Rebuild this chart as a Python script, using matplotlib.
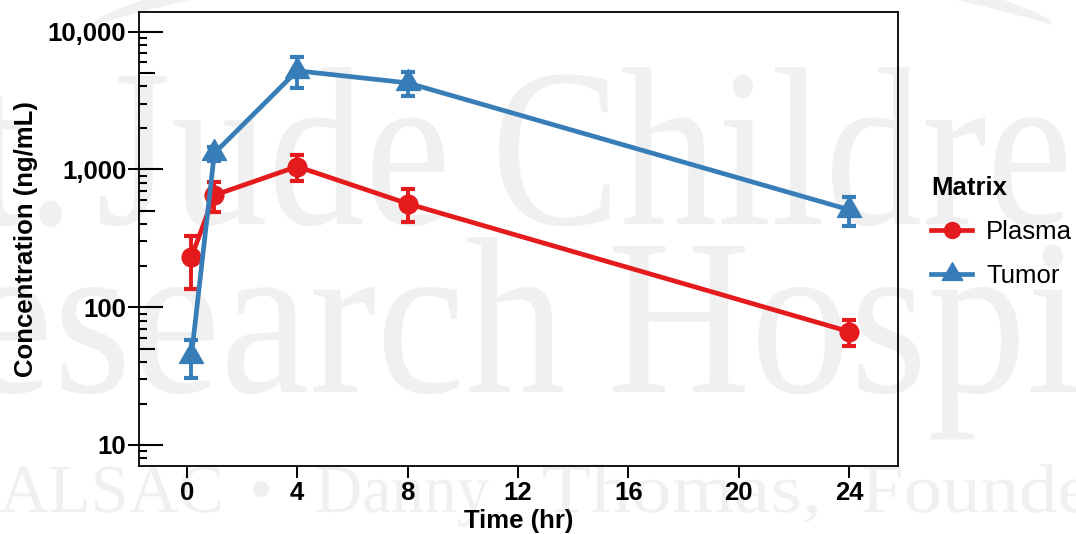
import numpy as np
import matplotlib
matplotlib.use("Agg")
import matplotlib.pyplot as plt
from matplotlib.font_manager import FontProperties
from matplotlib.textpath import TextPath
from matplotlib.patches import PathPatch, Polygon
from matplotlib.transforms import Affine2D
from matplotlib.path import Path
from matplotlib.lines import Line2D
from matplotlib.ticker import FixedLocator, NullLocator

# ---------------- data ----------------
time_hr = [0.17, 1, 4, 8, 24]
plasma_mean = [232, 650, 1050, 565, 66.5]
plasma_sd = [97, 155, 220, 152, 14]
tumor_mean = [44.4, 1310, 5200, 4250, 510]
tumor_sd = [13.9, 150, 1320, 840, 120]
series_names = ["Plasma", "Tumor"]
series_colors = ["#E41A1C", "#377EB8"]
x_ticks = [0, 4, 8, 12, 16, 20, 24]
y_ticks = [10, 100, 1000, 10000]
y_tick_labels = ["10", "100", "1,000", "10,000"]

plt.rcParams["font.family"] = ["Liberation Sans", "DejaVu Sans"]
FS = 18.5

W, H = 1076, 534
fig = plt.figure(figsize=(W / 100, H / 100), dpi=100)

# ---------------- background watermark ----------------
bg = fig.add_axes([0, 0, 1, 1], zorder=0)
bg.set_xlim(0, W)
bg.set_ylim(H, 0)
bg.axis("off")
wm_color = "#F0F0F0"
fp_serif = FontProperties(family="Liberation Serif")
Hcap = TextPath((0, 0), "H", size=100, prop=fp_serif).get_extents().height


def wm(text, x0, base, cap, x1=None, xs=0.85, align="left", sub=None):
    p = TextPath((0, 0), text, size=100, prop=fp_serif)
    ext = p.get_extents()
    sy = cap / Hcap
    if x1 is not None:
        right = TextPath((0, 0), sub, size=100, prop=fp_serif).get_extents().x1 if sub else ext.x1
        sx = (x1 - x0) / (right - ext.x0)
    else:
        sx = sy * xs
    tx = x0 - ext.x0 * sx if align == "left" else x0 - ext.x1 * sx
    tr = Affine2D().scale(sx, -sy).translate(tx, base)
    bg.add_patch(PathPatch(tr.transform_path(p), fc=wm_color, ec="none"))


wm("St.", 62, 224, 148, align="right")
wm("Jude", 100, 224, 148, x1=444)
wm("Children's", 499, 224, 148, x1=1066, sub="Childre")
wm("Research", 563, 392, 146, align="right", xs=0.9)
wm("Hospital", 613, 392, 146, x1=920, sub="Hos")
wm("ALSAC", 0, 512, 45, x1=220)
wm("\u2022", 253, 512, 45, x1=269)
wm("Danny", 317, 512, 45, x1=489)
wm("Thomas,", 543, 512, 45, x1=817)
wm("Founder", 863, 512, 45, xs=1.12)

# swoosh of the logo
xs_arc = np.linspace(93, 1053, 300)
yc = 25 - 0.0003 * (xs_arc - 93) * (1053 - xs_arc)
th = 24 * np.sin(np.pi * (xs_arc - 93) / 960) ** 0.4
poly = np.vstack([np.column_stack([xs_arc, yc]),
                  np.column_stack([xs_arc[::-1], (yc - th)[::-1]])])
bg.add_patch(Polygon(poly, closed=True, fc=wm_color, ec="none"))

# ---------------- main axes ----------------
L, R, T, B = 139, 898, 12, 466
ax = fig.add_axes([L / W, 1 - B / H, (R - L) / W, (B - T) / H], zorder=1)
ax.set_facecolor("none")
ax.set_yscale("log")
ax.set_xlim(-1.73, 25.77)
ax.set_ylim(7.04, 13890)

tri_verts = [(-1, -0.577), (1, -0.577), (0, 1.155), (-1, -0.577)]
tri = Path(tri_verts, [Path.MOVETO, Path.LINETO, Path.LINETO, Path.CLOSEPOLY])
markers = ["o", tri]
msizes = [13.5, 20]
means = [plasma_mean, tumor_mean]
sds = [plasma_sd, tumor_sd]

for name, c, m, ms, mu, sd in zip(series_names, series_colors, markers, msizes, means, sds):
    ax.errorbar(time_hr, mu, yerr=sd, fmt="none", ecolor=c, elinewidth=2.8,
                capsize=5, capthick=3, zorder=3)
    ax.plot(time_hr, mu, color=c, lw=3.4, marker=m, ms=ms, mec=c, mfc=c,
            zorder=4, solid_capstyle="butt")

for s in ax.spines.values():
    s.set_linewidth(1.3)
    s.set_color("black")

ax.xaxis.set_major_locator(FixedLocator(x_ticks))
ax.set_xticklabels([str(v) for v in x_ticks])
ax.yaxis.set_major_locator(FixedLocator(y_ticks))
ax.yaxis.set_minor_locator(NullLocator())
ax.set_yticklabels(y_tick_labels)
ax.tick_params(axis="x", direction="out", length=8.5, width=1.4, pad=2.5,
               labelsize=FS)
ax.tick_params(axis="y", direction="out", length=7.7, width=1.4, pad=1.5,
               labelsize=FS)
for lab in ax.get_xticklabels() + ax.get_yticklabels():
    lab.set_fontweight("bold")

# inward log ticks (annotation_logticks style)
ax_w_px = R - L
ylo, yhi = ax.get_ylim()
for d in range(0, 5):
    for k in range(1, 10):
        v = k * 10 ** d
        if ylo <= v <= yhi:
            ln = 24 if k == 1 else (16 if k == 5 else 8)
            ax.plot([0, ln / ax_w_px], [v, v], transform=ax.get_yaxis_transform(),
                    color="black", lw=1.5, clip_on=False, solid_capstyle="butt",
                    zorder=5)

ax.set_xlabel("Time (hr)", fontsize=FS, fontweight="bold", labelpad=3)
ax.set_ylabel("Concentration (ng/mL)", fontsize=FS, fontweight="bold", labelpad=7)

# ---------------- legend ----------------
handles = [Line2D([0], [0], color=c, lw=3.4, marker=m, ms=ms * 0.85, mec=c, mfc=c)
           for c, m, ms in zip(series_colors, markers, msizes)]
leg = ax.legend(handles, series_names, title="Matrix", loc="upper left",
                bbox_to_anchor=(931 / W, 1 - 176 / H), bbox_transform=fig.transFigure,
                frameon=False, fontsize=FS, handlelength=1.6, handletextpad=0.55,
                labelspacing=0.78, borderpad=0, borderaxespad=0,
                title_fontproperties={"weight": "bold", "size": FS},
                alignment="left")

fig.savefig("out.png", dpi=100)
